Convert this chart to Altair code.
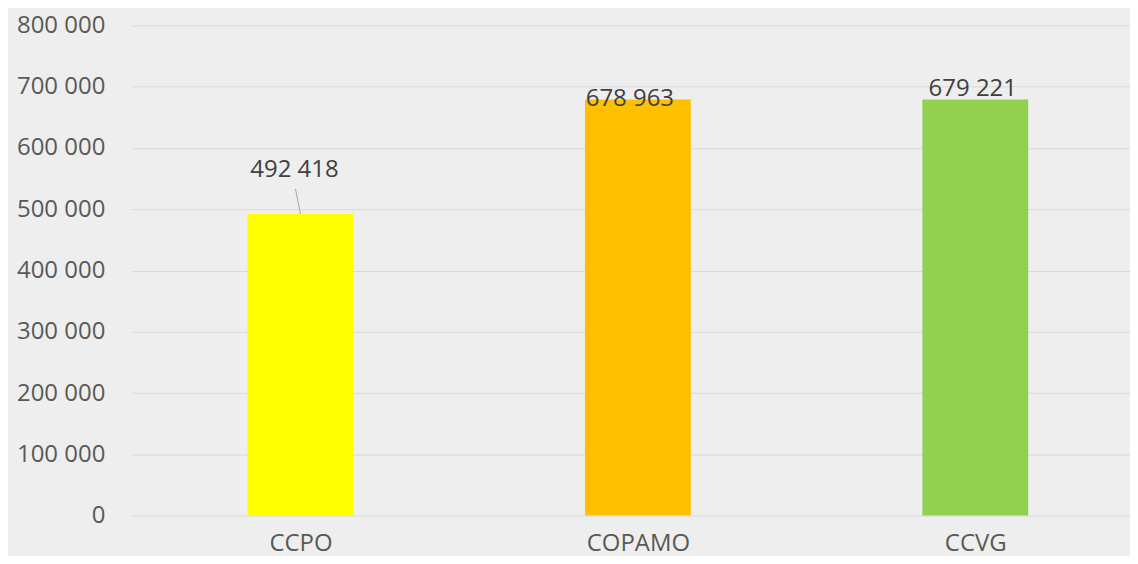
import altair as alt
import pandas as pd

categories = ["CCPO", "COPAMO", "CCVG"]
values = [492418, 678963, 679221]
colors = ["#FFFF00", "#FFC000", "#92D050"]
y_ticks = [0, 100000, 200000, 300000, 400000, 500000, 600000, 700000, 800000]

df = pd.DataFrame({
    "cat": categories,
    "idx": list(range(len(categories))),
    "value": values,
    "label": [f"{v:,}".replace(",", " ") for v in values],
})

# manual label placement (as dragged in the original)
label_offsets = {"CCPO": (-6, -37), "COPAMO": (-8, 6), "CCVG": (-2.5, -3)}

FONT = "Open Sans"
names_js = "[" + ",".join(f"'{c}'" for c in categories) + "]"

x_scale = alt.Scale(domain=[-0.5, 2.4586], nice=False, zero=False, padding=0)
x_enc = alt.X(
    "idx:Q",
    title=None,
    scale=x_scale,
    axis=alt.Axis(
        values=list(range(len(categories))), labelExpr=f"{names_js}[datum.value]",
        domain=False, ticks=False, labelAngle=0, labelFont=FONT, labelFontSize=24,
        labelColor="#595959", labelPadding=16, grid=False, labelFlush=False,
    ),
)
y_enc = alt.Y(
    "value:Q",
    title=None,
    scale=alt.Scale(domain=[0, 800000], nice=False),
    axis=alt.Axis(
        values=y_ticks, domain=False, ticks=False, labelFont=FONT, labelFontSize=24,
        labelColor="#595959", labelPadding=27, gridColor="#d9d9d9", gridWidth=1,
        labelExpr="replace(format(datum.value, ','), ',', ' ')",
    ),
)

bars = alt.Chart(df).mark_bar(size=106).encode(
    x=x_enc,
    y=y_enc,
    color=alt.Color("cat:N", scale=alt.Scale(domain=categories, range=colors), legend=None),
)

leader = alt.Chart(df).transform_filter(alt.datum.cat == "CCPO").mark_rule(
    color="#a6a6a6", strokeWidth=1, y2Offset=-25, x2Offset=-5
).encode(
    x=alt.X("idx:Q"),
    x2=alt.X2("idx"),
    y=alt.Y("value:Q"),
    y2=alt.Y2("value"),
)

texts = []
for c in categories:
    dx, dy = label_offsets[c]
    texts.append(
        alt.Chart(df).transform_filter(alt.datum.cat == c).mark_text(
            font=FONT, fontSize=24, color="#404040", baseline="alphabetic",
            align="center", dx=dx, dy=dy,
        ).encode(x=alt.X("idx:Q"), y=alt.Y("value:Q"), text="label:N")
    )

chart = alt.layer(bars, leader, *texts).properties(
    width=1000,
    height=491,
    background="#eeeeee",
    autosize=alt.AutoSizeParams(type="none"),
    padding={"left": 124, "top": 17, "right": 0, "bottom": 40},
).configure_view(stroke=None)

chart.save("out.html", embed_options={"renderer": "svg", "actions": False})
